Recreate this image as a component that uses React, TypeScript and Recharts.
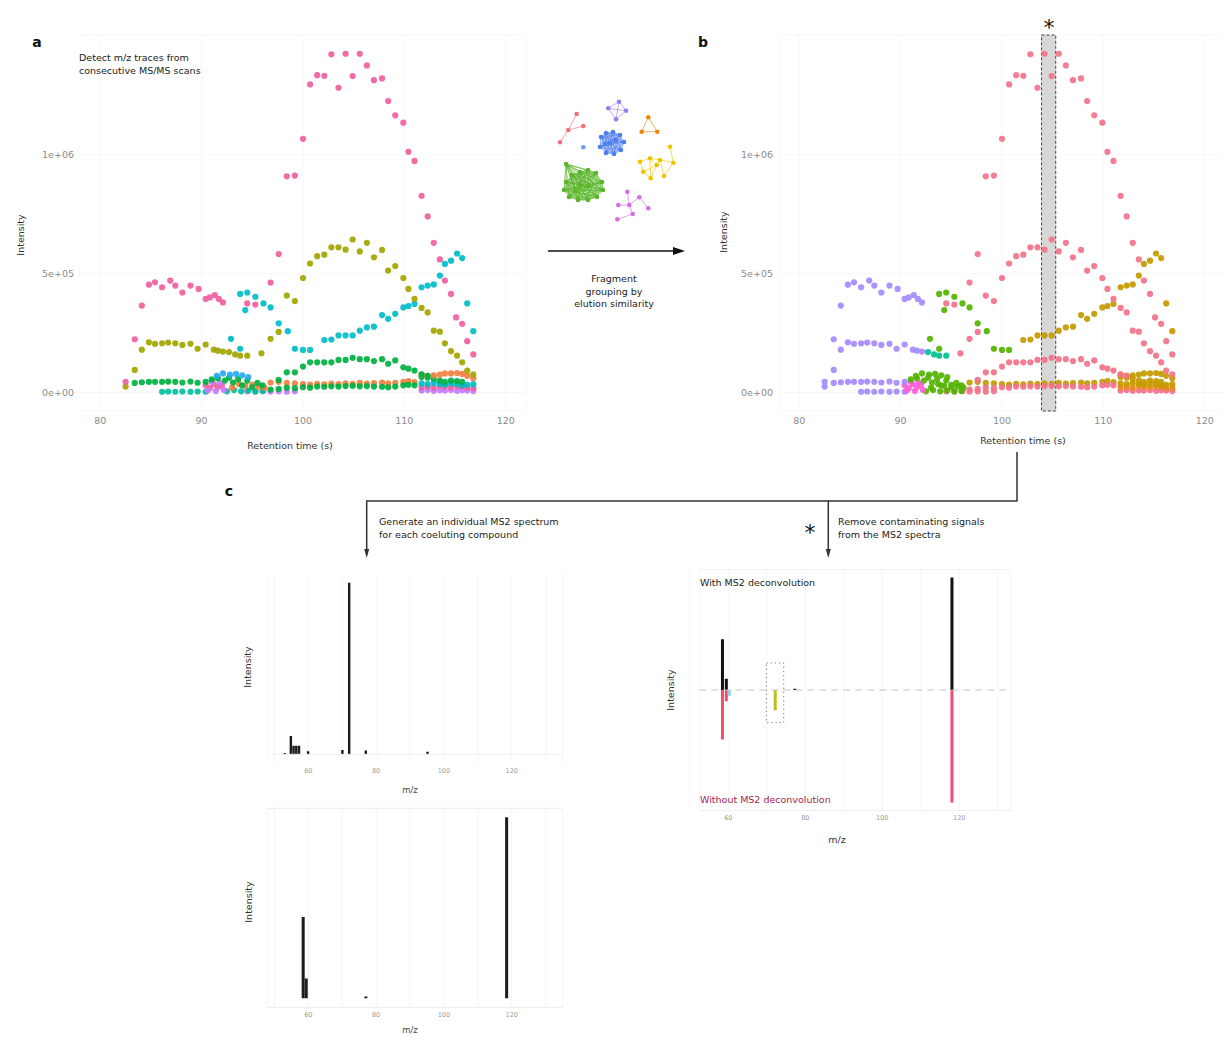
import React from 'react';
import {
  ScatterChart, Scatter, XAxis, YAxis, CartesianGrid, ReferenceArea, ReferenceLine,
  ComposedChart, Bar,
} from 'recharts';

const FONT = '"DejaVu Sans", Verdana, sans-serif';

type P = { t: number; i: number };
const mk = (rows: number[][]): P[] => rows.map(([t, i]) => ({ t, i }));

// ---------- retention-time traces (t in s, intensity) ----------
const pinkEarly = mk([[82.5,45e3],[83.4,224e3],[84.1,366e3],[84.8,454e3],[85.4,464e3],[86.1,443e3],[86.9,471e3],[87.4,450e3],[88.1,421e3],[88.9,450e3],[89.7,436e3],[90.4,394e3],[90.8,400e3],[91.3,410e3],[91.7,394e3],[92.1,379e3]]);
const oliveEarly = mk([[82.5,25e3],[83.4,95e3],[84.1,180e3],[84.8,211e3],[85.4,205e3],[86.1,207e3],[86.7,210e3],[87.4,207e3],[88.1,200e3],[88.9,205e3],[89.6,184e3],[90.4,202e3],[91.2,180e3],[91.6,176e3],[92.1,172e3]]);
const oliveMid = mk([[92.7,170e3],[93.3,160e3],[93.8,155e3],[94.5,155e3]]);
const greenEarly = mk([[83.4,40e3],[84.1,43e3],[84.8,45e3],[85.4,45e3],[86.1,45e3],[86.7,46e3],[87.4,45e3],[88.1,42e3],[88.9,46e3],[89.6,41e3],[90.4,45e3]]);
const tealZero = mk([[86.1,3e3],[86.7,4e3],[87.4,3e3],[88.1,4e3],[88.9,3e3],[89.6,4e3],[90.4,3e3]]);
const cyanMid = mk([[92.9,226e3],[93.8,184e3],[93.8,415e3],[94.5,421e3],[94.3,347e3],[95.3,403e3],[96.1,375e3],[96.8,358e3],[97.6,291e3],[98.5,258e3],[99.2,184e3],[100.0,179e3],[100.7,179e3]]);
const cyanRise = mk([[102.1,221e3],[102.8,223e3],[103.5,240e3],[104.2,240e3],[104.9,240e3],[105.6,260e3],[106.3,274e3],[107.0,277e3],[107.8,326e3],[108.4,310e3],[109.1,331e3],[109.9,358e3],[110.4,364e3],[111.0,373e3],[111.7,443e3],[112.3,450e3],[112.9,455e3],[113.5,492e3],[114.0,541e3],[114.6,555e3],[115.2,585e3],[115.7,566e3],[116.2,375e3],[116.8,258e3]]);
const pinkMid = mk([[94.5,375e3],[95.3,370e3],[96.8,463e3],[97.6,583e3]]);
const pinkPeak = mk([[98.4,910e3],[99.2,913e3],[100.0,1068e3],[100.7,1297e3],[101.4,1336e3],[102.1,1333e3],[102.8,1424e3],[103.5,1283e3],[104.2,1426e3],[104.9,1332e3],[105.6,1426e3],[106.3,1377e3],[107.0,1315e3],[107.8,1322e3],[108.4,1227e3],[109.1,1167e3],[109.9,1136e3],[110.4,1013e3],[111.0,975e3],[111.7,828e3],[112.3,741e3],[112.9,630e3],[113.5,560e3],[114.0,471e3],[114.6,415e3],[115.1,316e3],[115.7,289e3],[116.2,216e3],[116.8,160e3]]);
const oliveBig = mk([[95.9,165e3],[96.8,226e3],[97.6,255e3],[98.4,408e3],[99.2,385e3],[100.0,482e3],[100.7,543e3],[101.4,574e3],[102.1,580e3],[102.8,611e3],[103.5,611e3],[104.2,601e3],[104.9,644e3],[105.6,594e3],[106.3,630e3],[107.0,569e3],[107.8,600e3],[108.4,513e3],[109.1,532e3],[109.9,482e3],[110.4,436e3],[111.0,394e3],[111.7,356e3],[112.3,337e3],[112.9,260e3],[113.5,256e3],[114.0,207e3],[114.6,174e3],[115.2,155e3],[115.7,127e3],[116.2,92e3],[116.8,76e3]]);
const greenPeak = mk([[97.6,53e3],[98.4,85e3],[99.2,85e3],[100.0,109e3],[100.7,127e3],[101.4,127e3],[102.1,127e3],[102.8,127e3],[103.5,137e3],[104.2,137e3],[104.9,146e3],[105.6,140e3],[106.3,140e3],[107.0,132e3],[107.8,140e3],[108.4,121e3],[109.1,135e3],[109.9,106e3],[110.4,100e3],[111.0,92e3],[111.7,76e3],[112.3,70e3]]);
const blockBlue = mk([[91.5,70e3],[92.1,80e3],[92.8,75e3],[93.4,78e3],[94.0,72e3],[94.6,65e3]]);
const blockPink = mk([[90.4,30e3],[90.8,18e3],[91.2,35e3],[91.6,22e3],[92.0,30e3]]);
const blockPurple = mk([[90.6,8e3],[91.0,45e3],[91.4,6e3],[91.8,40e3],[92.2,10e3]]);
const blockGreen = mk([[91.0,55e3],[91.6,60e3],[92.3,50e3],[92.7,62e3],[93.1,42e3],[93.6,56e3],[94.0,30e3],[94.5,50e3],[95.0,22e3],[95.5,40e3],[96.0,30e3]]);
const blockOrange = mk([[93.0,20e3],[93.7,35e3],[94.3,28e3],[95.0,32e3],[95.6,25e3],[96.2,20e3]]);
const blockTeal = mk([[92.5,5e3],[93.2,10e3],[93.9,5e3],[94.6,8e3],[95.3,4e3],[96.0,6e3]]);
const lowOrange = mk([[96.8,42e3],[97.6,45e3],[98.4,40e3],[99.2,38e3],[100.0,35e3],[100.7,33e3],[101.4,36e3],[102.1,34e3],[102.8,37e3],[103.5,35e3],[104.2,38e3],[104.9,36e3],[105.6,40e3],[106.3,37e3],[107.0,39e3],[107.8,42e3],[108.4,38e3],[109.1,41e3],[109.9,45e3],[110.4,48e3],[111.0,44e3]]);
const lowGreen = mk([[96.8,12e3],[97.6,15e3],[98.4,20e3],[99.2,18e3],[100.0,22e3],[100.7,20e3],[101.4,25e3],[102.1,24e3],[102.8,26e3],[103.5,25e3],[104.2,27e3],[104.9,28e3],[105.6,26e3],[106.3,27e3],[107.0,25e3],[107.8,24e3],[108.4,22e3],[109.1,25e3],[109.9,30e3],[110.4,32e3],[111.0,30e3]]);
const lowPurple = mk([[94.5,5e3],[95.3,4e3],[96.1,6e3],[96.8,4e3],[97.6,5e3],[98.4,3e3],[99.2,5e3]]);
const lateTeal = mk([[111.7,38e3],[112.3,35e3],[112.9,40e3],[113.5,36e3],[114.0,33e3],[114.6,38e3],[115.2,35e3],[115.7,30e3],[116.2,32e3],[116.8,35e3]]);
const latePink = mk([[111.7,22e3],[112.3,25e3],[112.9,20e3],[113.5,28e3],[114.0,25e3],[114.6,22e3],[115.2,26e3],[115.7,24e3],[116.2,20e3],[116.8,18e3]]);
const latePurple = mk([[111.7,8e3],[112.3,10e3],[112.9,7e3],[113.5,9e3],[114.0,8e3],[114.6,10e3],[115.2,7e3],[115.7,9e3],[116.2,8e3],[116.8,6e3]]);
const lateGreen = mk([[111.7,65e3],[112.3,62e3],[112.9,58e3],[113.5,50e3],[114.0,45e3],[114.6,50e3],[115.2,48e3],[115.7,45e3]]);
const lateOrange = mk([[111.7,75e3],[112.3,70e3],[112.9,72e3],[113.5,75e3],[114.0,80e3],[114.6,80e3],[115.2,82e3],[115.7,78e3],[116.2,70e3],[116.8,60e3]]);

const rtTicks = [80, 90, 100, 110, 120];
const intensityTicks = [0, 5e5, 1e6];

// colours panel a (per m/z trace) and panel b (per compound group)
const A = { pink: '#F0609E', olive: '#A3A500', cyan: '#00BCC8', green: '#00B140', orange: '#F2803E', blue: '#2AA8F2', purple: '#C77CFF', teal: '#00BF9A' };
const B = { purple: '#A58AFF', green: '#53B400', teal: '#00C094', magenta: '#FB61D7', red: '#F2738B', gold: '#C49A00', orange: '#E8891C' };

const traces = [
  { data: lowPurple, a: A.purple, b: B.red },
  { data: latePurple, a: A.purple, b: B.red },
  { data: tealZero, a: A.teal, b: B.purple },
  { data: blockTeal, a: A.teal, b: B.green },
  { data: latePink, a: A.pink, b: B.orange },
  { data: lowOrange, a: A.orange, b: B.gold },
  { data: lateTeal, a: A.cyan, b: B.gold },
  { data: lowGreen, a: A.green, b: B.red },
  { data: blockOrange, a: A.orange, b: B.green },
  { data: blockPink, a: A.pink, b: B.magenta },
  { data: blockPurple, a: A.purple, b: B.magenta },
  { data: blockGreen, a: A.green, b: B.green },
  { data: blockBlue, a: A.blue, b: B.green },
  { data: lateGreen, a: A.green, b: B.gold },
  { data: lateOrange, a: A.orange, b: B.gold },
  { data: greenEarly, a: A.green, b: B.purple },
  { data: greenPeak, a: A.green, b: B.red },
  { data: oliveEarly, a: A.olive, b: B.purple },
  { data: oliveMid, a: A.olive, b: B.teal },
  { data: cyanMid, a: A.cyan, b: B.green },
  { data: cyanRise, a: A.cyan, b: B.gold },
  { data: oliveBig, a: A.olive, b: B.red },
  { data: pinkEarly, a: A.pink, b: B.purple },
  { data: pinkMid, a: A.pink, b: B.red },
  { data: pinkPeak, a: A.pink, b: B.red },
];

// ---------- fragment network (layout coordinates) ----------
type N = { x: number; y: number };
const nodesRed: N[] = [{ x: 576.7, y: 114 }, { x: 583.3, y: 126 }, { x: 568.3, y: 130 }, { x: 560, y: 142.3 }];
const nodesPurple: N[] = [{ x: 619, y: 101.7 }, { x: 608.3, y: 108.3 }, { x: 626, y: 110.7 }, { x: 616, y: 119.3 }];
const nodesOrange: N[] = [{ x: 648.3, y: 117.3 }, { x: 641.7, y: 131.7 }, { x: 657.3, y: 131.7 }];
const nodesBlue: N[] = [{ x: 601, y: 137 }, { x: 606, y: 133 }, { x: 613, y: 132 }, { x: 620, y: 135 }, { x: 624, y: 142 }, { x: 621, y: 150 }, { x: 614, y: 154 }, { x: 606, y: 153 }, { x: 600, y: 147 }, { x: 610, y: 143 }, { x: 616, y: 140 }, { x: 605, y: 144 }];
const nodeBlueLone: N[] = [{ x: 583.3, y: 147.3 }];
const nodesYellow: N[] = [{ x: 670, y: 146.7 }, { x: 640, y: 161.7 }, { x: 650, y: 158.3 }, { x: 656.7, y: 165 }, { x: 664, y: 176 }, { x: 673.3, y: 162.7 }, { x: 650.7, y: 178.3 }, { x: 643.3, y: 171.7 }, { x: 660, y: 160 }];
const nodesGreen: N[] = [{ x: 566, y: 164 }, { x: 572, y: 175 }, { x: 580, y: 172 }, { x: 588, y: 170 }, { x: 596, y: 173 }, { x: 602, y: 182 }, { x: 603, y: 190 }, { x: 597, y: 197 }, { x: 588, y: 200 }, { x: 578, y: 200 }, { x: 569, y: 197 }, { x: 564, y: 190 }, { x: 566, y: 182 }, { x: 580, y: 185 }, { x: 589, y: 186 }, { x: 575, y: 191 }];
const nodesMagenta: N[] = [{ x: 627.3, y: 191.7 }, { x: 639.3, y: 197.3 }, { x: 618.3, y: 205 }, { x: 629.3, y: 205 }, { x: 648.3, y: 208.3 }, { x: 632.7, y: 214 }, { x: 617.3, y: 219.3 }];
const edgesRed = [[0, 2], [2, 1], [3, 2]];
const edgesPurple = [[0, 1], [0, 2], [0, 3], [1, 3], [2, 3], [1, 2]];
const edgesOrange = [[0, 1], [1, 2], [2, 0]];
const edgesYellow = [[0, 5], [5, 4], [4, 8], [8, 3], [3, 6], [6, 7], [7, 1], [1, 2], [2, 8], [2, 3], [3, 7], [8, 5], [2, 6]];
const edgesMagenta = [[0, 3], [3, 1], [3, 2], [3, 5], [5, 6], [1, 4]];
const complete = (n: number) => { const e: number[][] = []; for (let a = 0; a < n; a++) for (let b = a + 1; b < n; b++) e.push([a, b]); return e; };

const clusters = [
  { nodes: nodesRed, edges: edgesRed, color: '#F2707A' },
  { nodes: nodesPurple, edges: edgesPurple, color: '#9C7CF2' },
  { nodes: nodesOrange, edges: edgesOrange, color: '#E8890A' },
  { nodes: nodesBlue, edges: complete(nodesBlue.length), color: '#4F7FEF' },
  { nodes: nodeBlueLone, edges: [] as number[][], color: '#6F9BF2' },
  { nodes: nodesYellow, edges: edgesYellow, color: '#F2C200' },
  { nodes: nodesGreen, edges: complete(nodesGreen.length), color: '#5AB52A' },
  { nodes: nodesMagenta, edges: edgesMagenta, color: '#D96BE6' },
];

// ---------- MS2 spectra ----------
const spectrumCompound1 = [
  { mz: 53.1, i: 0.008 }, { mz: 54.9, i: 0.107 }, { mz: 55.7, i: 0.05 }, { mz: 56.5, i: 0.05 }, { mz: 57.3, i: 0.05 },
  { mz: 60.0, i: 0.018 }, { mz: 70.1, i: 0.025 }, { mz: 72.1, i: 1 }, { mz: 77.0, i: 0.022 }, { mz: 95.2, i: 0.015 },
];
const spectrumCompound2 = [{ mz: 58.5, i: 0.45 }, { mz: 59.4, i: 0.11 }, { mz: 77.0, i: 0.01 }, { mz: 118.5, i: 1 }];
const mirrorSpectrum = [
  { mz: 58.5, w: 0.45, r: -0.44, y: 0, c: 0 },
  { mz: 59.5, w: 0.1, r: -0.1, y: 0, c: 0 },
  { mz: 60.3, w: 0, r: 0, y: 0, c: -0.05 },
  { mz: 72.2, w: 0, r: 0, y: -0.18, c: 0 },
  { mz: 77.3, w: 0.012, r: 0, y: 0, c: 0 },
  { mz: 118.1, w: 1, r: -1, y: 0, c: 0 },
];
const mzTicks = [50, 60, 70, 80, 90, 100, 110, 120, 130];
const mirrorGrid = [-1.068, -0.712, -0.356, 0, 0.356, 0.712, 1.068];
const spec2Grid = [0, 0.352, 0.704];

const fmtSci = (v: number) => v.toExponential(0).replace(/e([+-])(\d)$/, 'e$10$2');
const mzFmt = (v: number) => (v % 20 === 0 ? String(v) : '');

const dot = (color: string) => (p: any) => <circle cx={p.cx} cy={p.cy} r={3.1} fill={color} fillOpacity={0.92} />;
const node = (color: string) => (p: any) => <circle cx={p.cx} cy={p.cy} r={2.3} fill={color} />;

function RtPanel({ left, mode }: { left: number; mode: 'a' | 'b' }) {
  return (
    <div style={{ position: 'absolute', left, top: 0 }}>
      <ScatterChart width={540} height={460} margin={{ top: 35, right: 14, bottom: 29, left: 0 }}>
        <CartesianGrid stroke="#f7f7f7" />
        <XAxis type="number" dataKey="t" domain={[78, 122]} ticks={rtTicks} interval={0} allowDataOverflow
          axisLine={false} tickLine={false} tickSize={0} tickMargin={6} height={20}
          tick={{ fontSize: 9.5, fill: '#8a8a8a' }} />
        <YAxis type="number" dataKey="i" domain={[-78000, 1505000]} ticks={intensityTicks} interval={0} allowDataOverflow
          tickFormatter={fmtSci} width={80} axisLine={false} tickLine={false} tickSize={0} tickMargin={6}
          tick={{ fontSize: 9.5, fill: '#8a8a8a' }} />
        {mode === 'b' && (
          <ReferenceArea x1={103.9} x2={105.3} fill="#d0d0d0" fillOpacity={0.85} stroke="#444" strokeDasharray="3 2" />
        )}
        {traces.map((tr, k) => (
          <Scatter key={k} data={tr.data} isAnimationActive={false} shape={dot(mode === 'a' ? tr.a : tr.b)} />
        ))}
      </ScatterChart>
    </div>
  );
}

function Network() {
  return (
    <div style={{ position: 'absolute', left: 550, top: 92 }}>
      <ScatterChart width={150} height={140} margin={{ top: 0, right: 0, bottom: 0, left: 0 }}>
        <XAxis type="number" dataKey="x" domain={[550, 700]} hide />
        <YAxis type="number" dataKey="y" domain={[92, 232]} reversed hide />
        {clusters.flatMap((c, ci) =>
          c.edges.map(([p, q], ei) => (
            <ReferenceLine key={`e${ci}-${ei}`} segment={[c.nodes[p], c.nodes[q]]} stroke={c.color} strokeWidth={0.8} strokeOpacity={0.8} />
          )),
        )}
        {clusters.map((c, ci) => (
          <Scatter key={`n${ci}`} data={c.nodes} isAnimationActive={false} shape={node(c.color)} />
        ))}
      </ScatterChart>
    </div>
  );
}

const mzAxis = (domain: number[]) => (
  <XAxis type="number" dataKey="mz" domain={domain} ticks={mzTicks} interval={0} allowDataOverflow
    tickFormatter={mzFmt} axisLine={false} tickLine={false} tickSize={0} tickMargin={5} height={20}
    tick={{ fontSize: 6.5, fill: '#9a9a9a' }} />
);

function Spectrum1() {
  return (
    <div style={{ position: 'absolute', left: 240, top: 560 }}>
      <ComposedChart width={340} height={240} data={spectrumCompound1} margin={{ top: 14.1, right: 17.4, bottom: 17.1, left: 27.6 }}>
        <CartesianGrid stroke="#f6f6f6" horizontal={false} />
        {mzAxis([48, 135])}
        <YAxis type="number" domain={[-0.05, 1.05]} width={0} tick={false} axisLine={false} tickLine={false} />
        <ReferenceLine y={0} stroke="#f0f0f0" />
        <Bar dataKey="i" fill="#1c1c1c" barSize={3} isAnimationActive={false} />
      </ComposedChart>
    </div>
  );
}

function Spectrum2() {
  return (
    <div style={{ position: 'absolute', left: 240, top: 800 }}>
      <ComposedChart width={340} height={237} data={spectrumCompound2} margin={{ top: 8.3, right: 17.4, bottom: 9.6, left: 27.6 }}>
        <CartesianGrid stroke="#ececec" vertical={false} />
        <CartesianGrid stroke="#f5f5f5" horizontal={false} />
        {mzAxis([48, 135])}
        <YAxis type="number" domain={[-0.05, 1.05]} ticks={spec2Grid} width={0} tick={false} axisLine={false} tickLine={false} />
        <Bar dataKey="i" fill="#1c1c1c" barSize={3} isAnimationActive={false} />
      </ComposedChart>
    </div>
  );
}

function Mirror() {
  return (
    <div style={{ position: 'absolute', left: 680, top: 560 }}>
      <ComposedChart width={350} height={290} data={mirrorSpectrum} stackOffset="sign" margin={{ top: 9.6, right: 18.7, bottom: 19.6, left: 19.4 }}>
        <CartesianGrid stroke="#efefef" vertical={false} />
        <CartesianGrid stroke="#f6f6f6" horizontal={false} />
        {mzAxis([52.5, 133.5])}
        <YAxis type="number" domain={[-1.07, 1.07]} ticks={mirrorGrid} interval={0} width={0} tick={false} axisLine={false} tickLine={false} />
        <ReferenceLine y={0} stroke="#c4c4c4" strokeDasharray="7 5" />
        <ReferenceArea x1={69.9} x2={74.4} y1={-0.29} y2={0.24} fill="none" stroke="#777" strokeDasharray="1.2 3" />
        <Bar dataKey="w" stackId="s" fill="#111" barSize={3} isAnimationActive={false} />
        <Bar dataKey="r" stackId="s" fill="#EE4F6E" barSize={3} isAnimationActive={false} />
        <Bar dataKey="y" stackId="s" fill="#B8C21E" barSize={3} isAnimationActive={false} />
        <Bar dataKey="c" stackId="s" fill="#8AD6EA" barSize={3} isAnimationActive={false} />
      </ComposedChart>
    </div>
  );
}

function Overlay() {
  const t = { fontSize: 9.5, fill: '#222' } as const;
  const ax = { fontSize: 9.5, fill: '#333' } as const;
  const rot = (x: number, y: number, s: string, size = 9.5) => (
    <text x={x} y={y} transform={`rotate(-90 ${x} ${y})`} textAnchor="middle" dominantBaseline="central" fontSize={size} fill="#333">{s}</text>
  );
  return (
    <svg width={1223} height={1037} style={{ position: 'absolute', left: 0, top: 0, pointerEvents: 'none' }}>
      <text x={37} y={42} fontSize={14} fontWeight="bold" textAnchor="middle" dominantBaseline="central" fill="#111">a</text>
      <text x={703} y={42} fontSize={14} fontWeight="bold" textAnchor="middle" dominantBaseline="central" fill="#111">b</text>
      <text x={229} y={491} fontSize={14} fontWeight="bold" textAnchor="middle" dominantBaseline="central" fill="#111">c</text>

      <text x={79} y={57} {...t} dominantBaseline="central">Detect m/z traces from</text>
      <text x={79} y={70.5} {...t} dominantBaseline="central">consecutive MS/MS scans</text>

      {rot(20, 235, 'Intensity')}
      {rot(723, 232, 'Intensity')}
      {rot(247, 667, 'Intensity')}
      {rot(248, 902, 'Intensity')}
      {rot(670, 690, 'Intensity')}
      <text x={290} y={445} {...ax} textAnchor="middle" dominantBaseline="central">Retention time (s)</text>
      <text x={1023} y={440} {...ax} textAnchor="middle" dominantBaseline="central">Retention time (s)</text>
      <text x={410} y={790} fontSize={8.5} fill="#444" textAnchor="middle" dominantBaseline="central">m/z</text>
      <text x={410} y={1030} fontSize={8.5} fill="#444" textAnchor="middle" dominantBaseline="central">m/z</text>
      <text x={837} y={839} fontSize={9.5} fill="#333" textAnchor="middle" dominantBaseline="central">m/z</text>

      {/* grouping arrow */}
      <line x1={548} y1={251} x2={676} y2={251} stroke="#111" strokeWidth={1.6} />
      <polygon points="685,251 673,247 673,255" fill="#111" />
      <text x={614} y={278} {...t} textAnchor="middle" dominantBaseline="central">Fragment</text>
      <text x={614} y={291} {...t} textAnchor="middle" dominantBaseline="central">grouping by</text>
      <text x={614} y={303.5} {...t} textAnchor="middle" dominantBaseline="central">elution similarity</text>

      <text x={1049} y={35} fontSize={22} textAnchor="middle" fill="#111">*</text>
      <text x={810} y={540} fontSize={22} textAnchor="middle" fill="#111">*</text>

      {/* connectors */}
      <polyline points="1017,452 1017,501 366.7,501 366.7,551" fill="none" stroke="#333" strokeWidth={1.5} />
      <polygon points="366.7,558 364.2,549 369.2,549" fill="#333" />
      <line x1={828.3} y1={501} x2={828.3} y2={551} stroke="#333" strokeWidth={1.5} />
      <polygon points="828.3,558 825.8,549 830.8,549" fill="#333" />

      <text x={379} y={521} {...t} dominantBaseline="central">Generate an individual MS2 spectrum</text>
      <text x={379} y={534} {...t} dominantBaseline="central">for each coeluting compound</text>
      <text x={838} y={521} {...t} dominantBaseline="central">Remove contaminating signals</text>
      <text x={838} y={534} {...t} dominantBaseline="central">from the MS2 spectra</text>

      <text x={700} y={582} {...t} dominantBaseline="central">With MS2 deconvolution</text>
      <text x={700} y={799} fontSize={9.5} fill="#A3244F" dominantBaseline="central">Without MS2 deconvolution</text>
    </svg>
  );
}

export default function App() {
  return (
    <div style={{ position: 'absolute', left: 0, top: 0, width: 1223, height: 1037, overflow: 'hidden', background: '#fff', fontFamily: FONT }}>
      <RtPanel left={0} mode="a" />
      <RtPanel left={699} mode="b" />
      <Network />
      <Spectrum1 />
      <Spectrum2 />
      <Mirror />
      <Overlay />
    </div>
  );
}
